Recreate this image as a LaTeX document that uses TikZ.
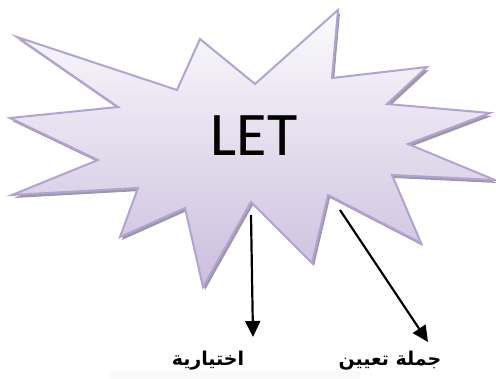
\documentclass[tikz,border=0pt]{standalone}
\usepackage{fontspec}
\setmainfont{Carlito}
\newfontfamily\arabicfont[Script=Arabic]{DejaVu Sans}
\TeXXeTstate=1
\usetikzlibrary{arrows.meta}
\definecolor{starline}{HTML}{B2A3D1}
\definecolor{startop}{HTML}{FBFBFD}
\definecolor{starbottom}{HTML}{CBBEDD}
\definecolor{starshadow}{HTML}{9C98A8}
\tikzset{
  starpath/.style={line width=2pt, line join=miter},
  arrowline/.style={-{Triangle[length=16pt,width=15pt]}, line width=2.2pt},
  arlabel/.style={font=\arabicfont\bfseries\fontsize{19}{21}\selectfont, inner sep=0pt}
}
\begin{document}
\begin{tikzpicture}[x=1pt, y=1pt]
    \useasboundingbox (0,0) rectangle (496,379);
    % nen xam nhat o duoi
    \fill[gray!5] (110,0) rectangle (360,8);

    % bong cua hinh ngoi sao
    \fill[starshadow, shift={(2,-3)}]
        (17,342) -- (177,289) -- (200,340) -- (255,295) -- (338,369) -- (332,301)
        -- (427,312) -- (387,275) -- (490,266) -- (408,235) -- (495,199) -- (392,204)
        -- (421,136) -- (328,184) -- (312,116) -- (251,177) -- (203,92) -- (185,171)
        -- (120,142) -- (138,191) -- (12,184) -- (98,219) -- (10,261) -- (118,272) -- cycle;

    % hinh ngoi sao no
    \draw[starpath, draw=starline, top color=startop, bottom color=starbottom]
        (17,342) -- (177,289) -- (200,340) -- (255,295) -- (338,369) -- (332,301)
        -- (427,312) -- (387,275) -- (490,266) -- (408,235) -- (495,199) -- (392,204)
        -- (421,136) -- (328,184) -- (312,116) -- (251,177) -- (203,92) -- (185,171)
        -- (120,142) -- (138,191) -- (12,184) -- (98,219) -- (10,261) -- (118,272) -- cycle;
    \node (let) at (254,243) {\fontsize{62}{70}\selectfont LET};

    % nhan tieng A Rap
    \node[arlabel] (optional) at (208,18) {\beginR اختيارية\endR};
    \node[arlabel] (assign) at (390,18) {\beginR جملة تعيين\endR};

    % diem dau va diem cuoi cua mui ten
    \coordinate (tailA) at (251,164);
    \coordinate (headA) at (253,42);
    \coordinate (tailB) at (340,169);
    \coordinate (headB) at (428,37);
    \draw[arrowline] (tailA) -- (headA);
    \draw[arrowline] (tailB) -- (headB);
\end{tikzpicture}
\end{document}
